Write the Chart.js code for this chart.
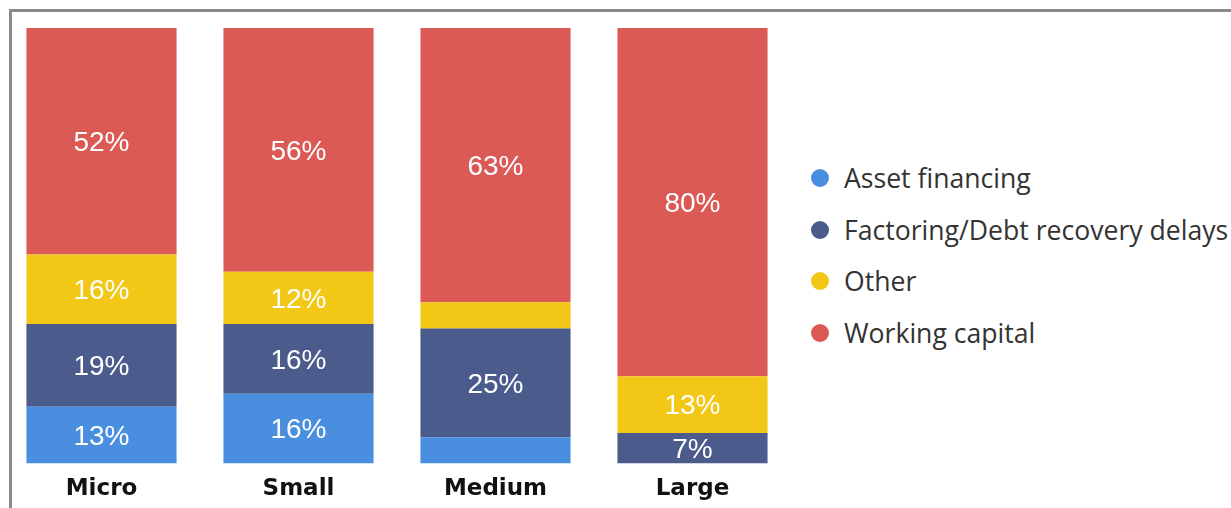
<!DOCTYPE html>
<html>
<head>
<meta charset="utf-8">
<script src="https://cdn.jsdelivr.net/npm/chart.js@4/dist/chart.umd.min.js"></script>
<style>
  html, body { margin: 0; padding: 0; background: #fff; }
  body { width: 1231px; height: 508px; position: relative; overflow: hidden; }
  #frame { position: absolute; left: 9px; top: 9px; width: 1240px; height: 520px;
           border-top: 3px solid #8a8a8a; border-left: 3px solid #8a8a8a; }
  #wrap { position: absolute; left: 0; top: 0; width: 800px; height: 524px; }
  #legend { position: absolute; left: 811px; top: 152px; font-family: "Open Sans", sans-serif;
            font-size: 26.6px; color: #333; }
  #legend div { height: 51.7px; display: flex; align-items: center; white-space: nowrap; }
  #legend span.dot { display: inline-block; width: 18px; height: 18px; border-radius: 50%; margin-right: 15px; }
</style>
</head>
<body>
<div id="frame"></div>
<div id="wrap"><canvas id="myChart"></canvas></div>
<div id="legend"></div>
<script>
const categories = ["Micro", "Small", "Medium", "Large"];
const assetFinancing = [13, 16, 6, 0];
const factoring = [19, 16, 25, 7];
const other = [16, 12, 6, 13];
const workingCapital = [52, 56, 63, 80];

const seriesNames = ["Asset financing", "Factoring/Debt recovery delays", "Other", "Working capital"];
const seriesColors = ["#4a8fdf", "#4b5b8b", "#f2c716", "#db5a55"];
const seriesValues = [assetFinancing, factoring, other, workingCapital];

// percent labels inside the segments
const barLabels = {
  id: "barLabels",
  afterDatasetsDraw(chart) {
    const ctx = chart.ctx;
    ctx.save();
    ctx.font = "28px 'Liberation Sans', Arial, sans-serif";
    ctx.fillStyle = "#ffffff";
    ctx.textAlign = "center";
    ctx.textBaseline = "middle";
    chart.data.datasets.forEach(function(ds, i) {
      chart.getDatasetMeta(i).data.forEach(function(bar, j) {
        const v = ds.data[j];
        if (v < 7) return;
        ctx.fillText(v + "%", bar.x, (bar.y + bar.base) / 2 + 2);
      });
    });
    ctx.restore();
  }
};

new Chart(document.getElementById("myChart"), {
  type: "bar",
  data: {
    labels: categories,
    datasets: seriesValues.map(function(vals, i) {
      return {
        label: seriesNames[i],
        data: vals,
        backgroundColor: seriesColors[i],
        borderWidth: 0,
        barPercentage: 0.762,
        categoryPercentage: 1
      };
    })
  },
  options: {
    responsive: true,
    maintainAspectRatio: false,
    animation: false,
    layout: { padding: { left: 3, right: 9, top: 28, bottom: 9 } },
    plugins: { legend: { display: false }, tooltip: { enabled: false } },
    scales: {
      x: {
        stacked: true,
        grid: { display: false, drawTicks: false },
        border: { display: false },
        ticks: { color: "#111", padding: 12, font: { family: "'DejaVu Sans'", weight: "bold", size: 23 } }
      },
      y: { stacked: true, display: false, min: 0, max: 100 }
    }
  },
  plugins: [barLabels]
});

const legend = document.getElementById("legend");
seriesNames.forEach(function(name, i) {
  const row = document.createElement("div");
  row.innerHTML = '<span class="dot" style="background:' + seriesColors[i] + '"></span>' + name;
  legend.appendChild(row);
});
</script>
</body>
</html>
